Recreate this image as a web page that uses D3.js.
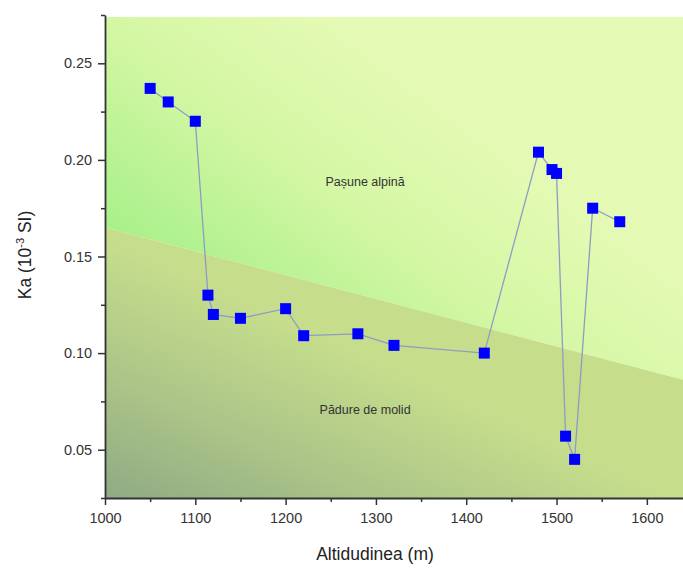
<!DOCTYPE html>
<html>
<head>
<meta charset="utf-8">
<script src="https://cdn.jsdelivr.net/npm/d3@7"></script>
<style>
  body { margin: 0; background: #fff; }
  text { font-family: Arial, "Liberation Sans", sans-serif; }
</style>
</head>
<body>
<svg id="chart" width="683" height="570"></svg>
<script>
// altitude (m) and Ka (10^-3 SI), in drawing order
const altitude = [1050, 1070, 1100, 1114, 1120, 1150, 1200, 1220, 1280, 1320, 1420, 1480, 1495, 1500, 1510, 1520, 1540, 1570];
const ka = [0.237, 0.230, 0.220, 0.130, 0.120, 0.118, 0.123, 0.109, 0.110, 0.104, 0.100, 0.204, 0.195, 0.193, 0.057, 0.045, 0.175, 0.168];

// boundary between alpine pasture and spruce forest
const boundaryX = [1000, 1650];
const boundaryY = [0.165, 0.085];

const xTicks = [1000, 1100, 1200, 1300, 1400, 1500, 1600];
const yTicks = [0.05, 0.10, 0.15, 0.20, 0.25];

const zoneLabels = ['Pașune alpină', 'Pădure de molid'];
const zoneLabelX = [1288, 1288];
const zoneLabelY = [0.188, 0.070];

const svg = d3.select('#chart');

const x = d3.scaleLinear().domain([1000, 1650]).range([105, 692]);
const y = d3.scaleLinear().domain([0.025, 0.275]).range([498, 15]);

const defs = svg.append('defs');

// gradients in user space so the bright band sits along the boundary
function grad(id, p0, p1, stops) {
  const g = defs.append('linearGradient')
    .attr('id', id)
    .attr('gradientUnits', 'userSpaceOnUse')
    .attr('x1', p0[0]).attr('y1', p0[1])
    .attr('x2', p1[0]).attr('y2', p1[1]);
  stops.forEach(s => g.append('stop').attr('offset', s[0]).attr('stop-color', s[1]));
}
grad('upper', [150, 260], [330, 20], [[0, '#a8f08a'], [0.55, '#d4f7a4'], [1, '#e4fab4']]);
grad('lower', [105, 498], [205, 280], [[0, '#90aa84'], [0.5, '#adc688'], [1, '#c6de8c']]);

defs.append('clipPath').attr('id', 'plot-clip')
  .append('rect')
  .attr('x', x(1000)).attr('y', 17)
  .attr('width', x(1650) - x(1000)).attr('height', y(0.025) - 17);

const bg = svg.append('g').attr('clip-path', 'url(#plot-clip)');

const x0 = x(boundaryX[0]), x1 = x(boundaryX[1]);
const b0 = y(boundaryY[0]), b1 = y(boundaryY[1]);

bg.append('path')
  .attr('d', `M${x0},${y(0.275)}L${x1},${y(0.275)}L${x1},${b1}L${x0},${b0}Z`)
  .attr('fill', 'url(#upper)');

bg.append('path')
  .attr('d', `M${x0},${b0}L${x1},${b1}L${x1},${y(0.025)}L${x0},${y(0.025)}Z`)
  .attr('fill', 'url(#lower)');

// zone labels
bg.selectAll('.zone')
  .data(zoneLabels)
  .enter().append('text')
  .attr('class', 'zone')
  .attr('x', (d, i) => x(zoneLabelX[i]))
  .attr('y', (d, i) => y(zoneLabelY[i]))
  .attr('text-anchor', 'middle')
  .attr('dominant-baseline', 'middle')
  .attr('font-size', 12.5)
  .attr('fill', '#333')
  .text(d => d);

// data line
const points = altitude.map((a, i) => [a, ka[i]]);

svg.append('path')
  .datum(points)
  .attr('fill', 'none')
  .attr('stroke', '#8d9cc4')
  .attr('stroke-width', 1.3)
  .attr('d', d3.line().x(d => x(d[0])).y(d => y(d[1])));

const size = 11;
svg.selectAll('.pt')
  .data(points)
  .enter().append('rect')
  .attr('class', 'pt')
  .attr('x', d => x(d[0]) - size / 2)
  .attr('y', d => y(d[1]) - size / 2)
  .attr('width', size)
  .attr('height', size)
  .attr('fill', '#0000ff');

// axes
const axisColor = '#333';

const xAxis = svg.append('g')
  .attr('transform', `translate(0,${y(0.025)})`)
  .call(d3.axisBottom(x).tickValues(xTicks).tickFormat(d3.format('d')).tickSize(7).tickSizeOuter(0));

svg.append('g')
  .attr('transform', `translate(0,${y(0.025)})`)
  .call(d3.axisBottom(x).tickValues(d3.range(1050, 1700, 100)).tickFormat('').tickSize(4).tickSizeOuter(0))
  .call(g => g.select('.domain').remove());

const yAxis = svg.append('g')
  .attr('transform', `translate(${x(1000)},0)`)
  .call(d3.axisLeft(y).tickValues(yTicks).tickFormat(d3.format('.2f')).tickSize(7).tickSizeOuter(0));

svg.append('g')
  .attr('transform', `translate(${x(1000)},0)`)
  .call(d3.axisLeft(y).tickValues([0.025, 0.075, 0.125, 0.175, 0.225, 0.275]).tickFormat('').tickSize(4).tickSizeOuter(0))
  .call(g => g.select('.domain').remove());

svg.selectAll('.domain').attr('stroke', axisColor).attr('stroke-width', 1.8);
svg.selectAll('.tick line').attr('stroke', axisColor).attr('stroke-width', 1.5);
svg.selectAll('.tick text')
  .attr('fill', '#333')
  .attr('font-size', 14.5)
  .attr('font-family', 'Arial, "Liberation Sans", sans-serif');

xAxis.selectAll('.tick text').attr('dy', '1.05em');
yAxis.selectAll('.tick text').attr('dx', '-0.2em');

// axis titles
svg.append('text')
  .attr('x', 375)
  .attr('y', 560)
  .attr('text-anchor', 'middle')
  .attr('font-size', 17.5)
  .attr('fill', '#222')
  .text('Altidudinea (m)');

const yTitle = svg.append('text')
  .attr('transform', 'translate(31,255) rotate(-90)')
  .attr('text-anchor', 'middle')
  .attr('font-size', 17.5)
  .attr('fill', '#222');
yTitle.append('tspan').text('Ka  (10');
yTitle.append('tspan').attr('dy', -7).attr('font-size', 11).text('-3');
yTitle.append('tspan').attr('dy', 7).text(' SI)');
</script>
</body>
</html>
